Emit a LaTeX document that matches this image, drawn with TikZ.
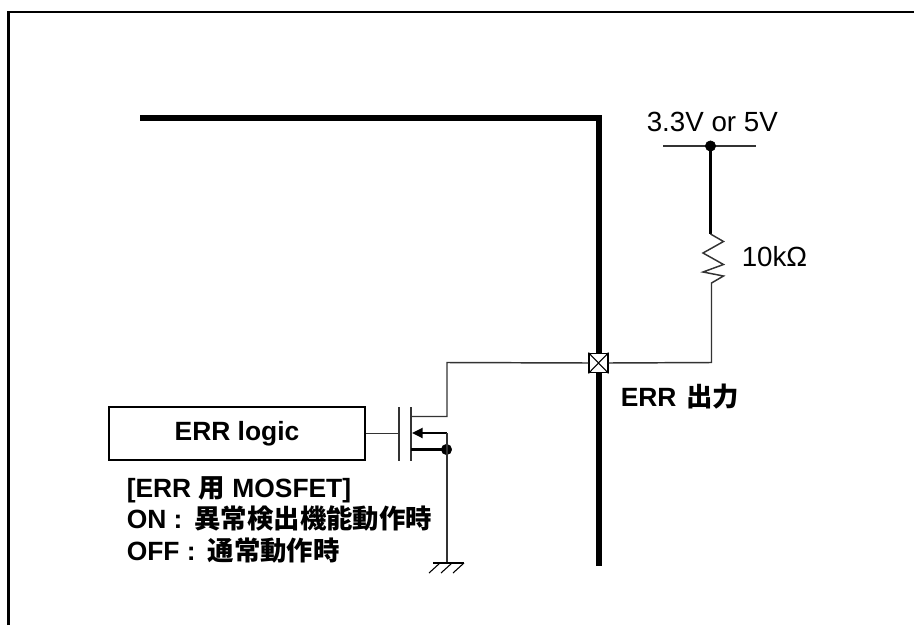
\documentclass[tikz,border=0pt]{standalone}
\usepackage{fontspec}
\setmainfont{Liberation Sans}
\newfontfamily\cjk{Noto Sans CJK JP}
\usetikzlibrary{arrows.meta}
\tikzset{
    thinwire/.style={line width=1.1pt,black!80},
    heavywire/.style={line width=1.7pt},
    busline/.style={line width=4.2pt},
    labeltext/.style={inner sep=0pt,anchor=base west,font=\fontsize{20.8}{20.8}\selectfont},
    boldtext/.style={labeltext,font=\bfseries\fontsize{19.8}{23.9}\selectfont},
}
\begin{document}
\begin{tikzpicture}[x=0.75pt,y=-0.75pt]
    \useasboundingbox (0,0) rectangle (914,625);
    % outer frame
    \draw[line width=1.8pt] (8.5,625) -- (8.5,12) -- (914,12);
    % device edge
    \draw[busline,line cap=butt] (140,118) -- (599,118) -- (599,566);
    \node[draw=black,fill=white,line width=1.1pt,minimum width=14pt,minimum height=14.5pt,inner sep=0pt] (pad) at (598.5,363) {};
    \draw[line width=0.8pt] (pad.north west) -- (pad.south east);
    \draw[line width=0.8pt] (pad.north east) -- (pad.south west);
    % pull-up
    \coordinate (railL) at (663,146);
    \coordinate (railR) at (756,146);
    \coordinate (railT) at (710.5,146);
    \coordinate (resT) at (710.5,234);
    \coordinate (resB) at (711.5,283);
    \coordinate (pullup) at (711.5,362.5);
    \draw[thinwire] (railL) -- (railR);
    \filldraw (railT) circle[radius=3.9pt];
    \draw[heavywire] (railT) -- (resT);
    \draw[thinwire] (resT) -- (723.5,241.5) -- (703,253) -- (723.5,264.5) -- (703,272) -- (723.5,276) -- (resB) -- (pullup) -- (pad.east);
    \node[labeltext] (supply) at (646.5,131) {3.3V or 5V};
    \node[labeltext] (resval) at (741.5,266.5) {10kΩ};
    % logic and MOSFET
    \node[draw=black,line width=1.1pt,minimum width=192pt,minimum height=39.5pt,inner sep=0pt,font=\bfseries\fontsize{19.8}{19.8}\selectfont] (logic) at (237,433.5) {ERR logic};
    \coordinate (gateT) at (399,407);
    \coordinate (gateB) at (399,461);
    \coordinate (chanT) at (411,407);
    \coordinate (chanB) at (411,461);
    \coordinate (gateM) at (399,433.5);
    \coordinate (drain) at (411,416.5);
    \coordinate (corner) at (447,416.5);
    \coordinate (top) at (447,362.5);
    \coordinate (body) at (447,433);
    \coordinate (bodytip) at (412,433);
    \coordinate (src) at (411,449.5);
    \coordinate (srcdot) at (446.5,449.5);
    \coordinate (gnd) at (447,563);
    \draw[thinwire] (logic.east) -- (gateM);
    \draw[thinwire] (gateT) -- (gateB);
    \draw[thinwire] (chanT) -- (chanB);
    \draw[thinwire] (drain) -- (corner) -- (top) -- (pad.west);
    \draw[heavywire,-{Triangle[length=8pt,width=7.5pt]}] (body) -- (bodytip);
    \draw[heavywire] (src) -- (srcdot);
    \filldraw (srcdot) circle[radius=3.9pt];
    \draw[thinwire] (body) -- (gnd);
    % ground
    \draw[line width=0.8pt] (433,563) -- (464,563);
    \draw[line width=0.8pt] (440,563) -- (429,573);
    \draw[line width=0.8pt] (452,563) -- (441,573);
    \draw[line width=0.8pt] (464,563) -- (453,573);
    % labels
    \node[boldtext] (errout) at (620.5,406) {ERR\hspace{2pt} {\cjk 出力}};
    \node[boldtext,align=left,anchor=north west] (note) at (126.5,476) {[ERR {\cjk 用} MOSFET]\\ON :\hspace{3.5pt} {\cjk 異常検出機能動作時}\\OFF :\hspace{3.5pt} {\cjk 通常動作時}};
\end{tikzpicture}
\end{document}
